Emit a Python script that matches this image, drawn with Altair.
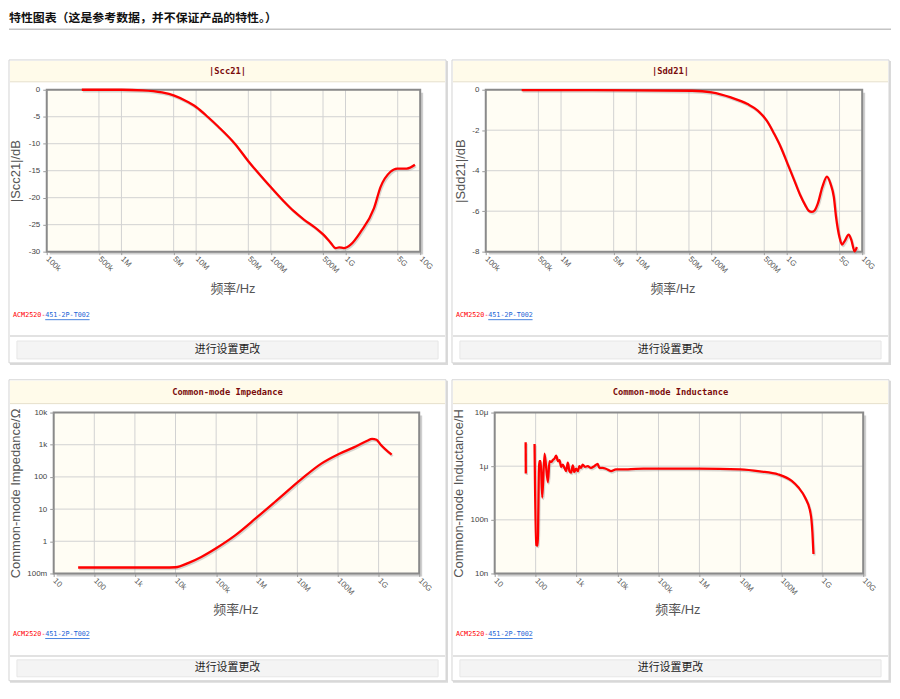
import json
import altair as alt
import pandas as pd

# ---------------- text ----------------
header_text = "特性图表（这是参考数据，并不保证产品的特性。）"
part_prefix = "ACM2520-"
part_suffix = "451-2P-T002"
button_text = "进行设置更改"
x_title = "频率/Hz"

# ---------------- data: |Scc21| (dB) ----------------
scc_f = [2.95e5, 6e5, 1e6, 1.9e6, 3.5e6, 5.1e6, 7.1e6, 1e7, 1.45e7, 2e7, 3.3e7, 5.1e7,
         9.1e7, 1.5e8, 2.07e8, 2.8e8, 3.8e8, 5.1e8, 6.2e8, 7.4e8, 8.2e8, 9.5e8, 1.17e9,
         1.6e9, 2.4e9, 2.95e9, 4e9, 4.9e9, 6.6e9, 8.5e9]
scc_v = [0, 0, 0, -0.1, -0.5, -1.1, -2.0, -3.2, -5.1, -6.9, -10.0, -13.4,
         -17.4, -20.7, -22.6, -24.1, -25.4, -26.9, -28.2, -29.35, -29.2, -29.35, -28.7,
         -26.3, -22.0, -18.0, -15.2, -14.6, -14.6, -13.9]

# ---------------- data: |Sdd21| (dB) ----------------
sdd_f = [3e5, 1e6, 1e7, 5.5e7, 1e8, 1.8e8, 3e8, 4.1e8, 5.4e8, 6.8e8, 8.3e8, 1.02e9,
         1.26e9, 1.5e9, 1.75e9, 1.95e9, 2.15e9, 2.35e9, 2.57e9, 2.95e9, 3.4e9, 3.8e9,
         4.2e9, 4.5e9, 5.0e9, 5.4e9, 5.9e9, 6.6e9, 7.2e9, 7.9e9, 8.5e9]
sdd_v = [-0.02, -0.02, -0.03, -0.05, -0.13, -0.38, -0.71, -1.03, -1.53, -2.19, -2.84, -3.66,
         -4.5, -5.2, -5.7, -5.98, -6.04, -5.95, -5.63, -4.81, -4.29, -4.65,
         -5.3, -6.3, -7.3, -7.65, -7.45, -7.16, -7.44, -7.98, -7.77]

# ---------------- data: common-mode impedance (ohm) ----------------
z_f = [40, 100, 1e3, 5e3, 1e4, 2.1e4, 4.3e4, 1.02e5, 2.88e5, 1e6, 3e6, 1.23e7,
       3.8e7, 1.05e8, 2.45e8, 5.25e8, 6.9e8, 8.9e8, 1.1e9, 2.1e9]
z_v = [0.153, 0.153, 0.153, 0.153, 0.156, 0.214, 0.327, 0.62, 1.5, 5.5, 18, 84,
       255, 518, 826, 1330, 1530, 1420, 1040, 490]

# ---------------- data: common-mode inductance (uH) ----------------
l_f = [57, 57.5, 94, 103, 112, 122, 133, 145, 165, 199, 218, 240, 263, 290, 317, 350, 382,
       420, 461, 505, 555, 610, 669, 735, 807, 880, 972, 1070, 1170, 1290, 1410, 1600,
       1870, 2250, 2700, 3280, 3590, 4330, 5220, 6920, 9150, 1.6e4, 2.8e4, 1e5, 1e6,
       1e7, 3e7, 8.5e7, 1.8e8, 2.63e8, 3.8e8, 5.1e8, 5.45e8, 5.75e8, 6.1e8]
l_v = [2.8, 0.73, 2.6, 0.034, 0.033, 1.24, 1.24, 0.26, 1.72, 0.5, 1.24, 1.2, 1.3, 1.4,
       1.58, 1.24, 1.3, 0.97, 1.07, 0.93, 0.81, 1.16, 0.81, 0.76, 1.03, 0.78, 0.9, 0.81,
       1.0, 0.93, 1.07, 0.975, 1.0, 0.93, 1.0, 1.1, 0.93, 0.93, 0.895, 0.81, 0.87, 0.87,
       0.895, 0.9, 0.9, 0.87, 0.8, 0.70, 0.53, 0.40, 0.26, 0.14, 0.1, 0.058, 0.023]
l_seg = [1, 1] + [2] * (len(l_f) - 2)

# ---------------- ticks ----------------
xt_hf = [1e5, 5e5, 1e6, 5e6, 1e7, 5e7, 1e8, 5e8, 1e9, 5e9, 1e10]
xl_hf = ["100k", "500k", "1M", "5M", "10M", "50M", "100M", "500M", "1G", "5G", "10G"]
xt_wide = [1e1, 1e2, 1e3, 1e4, 1e5, 1e6, 1e7, 1e8, 1e9, 1e10]
xl_wide = ["10", "100", "1k", "10k", "100k", "1M", "10M", "100M", "1G", "10G"]
yt_scc = [0, -5, -10, -15, -20, -25, -30]
yl_scc = ["0", "-5", "-10", "-15", "-20", "-25", "-30"]
yt_sdd = [0, -2, -4, -6, -8]
yl_sdd = ["0", "-2", "-4", "-6", "-8"]
yt_z = [0.1, 1, 10, 100, 1000, 10000]
yl_z = ["100m", "1", "10", "100", "1k", "10k"]
yt_l = [0.01, 0.1, 1, 10]
yl_l = ["10n", "100n", "1μ", "10μ"]

SANS = "Liberation Sans, Noto Sans CJK SC, sans-serif"
CJK = "Noto Sans CJK SC, sans-serif"
MONO = "DejaVu Sans Mono, monospace"


def lab_expr(vals, labs):
    return (json.dumps(labs, ensure_ascii=False) + "[indexof(" +
            json.dumps([float(v) for v in vals]) + ", datum.value)]")


def panel(cfg):
    W, H, tb = cfg["W"], cfg["H"], cfg["tb"]
    px0, px1, py0, py1 = cfg["plot"]
    xd = [cfg["xt"][0], cfg["xt"][-1]]
    yd = cfg["ydom"]
    one = alt.Chart(pd.DataFrame({"k": [0]}))

    xs = alt.Scale(type="log", domain=xd, range=[px0, px1], nice=False)
    if cfg["ylog"]:
        ys = alt.Scale(type="log", domain=yd, range=[py1, py0], nice=False)
    else:
        ys = alt.Scale(type="linear", domain=yd, range=[py1, py0], nice=False, zero=False)

    xaxis = alt.Axis(values=cfg["xt"], labelExpr=lab_expr(cfg["xt"], cfg["xl"]),
                     orient="bottom", offset=py1 - H, domain=False, grid=False,
                     ticks=True, tickSize=3, tickColor="#9a9a9a", labelAngle=45,
                     labelAlign="left", labelBaseline="middle", labelPadding=3,
                     labelFontSize=8, labelColor="#555555", labelFont=SANS,
                     labelOverlap=False, labelFlush=False,
                     title=x_title, titleX=cfg["xtx"], titleY=cfg["xty"] - py1,
                     titleAlign="center", titleBaseline="middle", titleFontSize=13,
                     titleFontWeight="normal", titleColor="#555555", titleFont=SANS,
                     zindex=1)
    yaxis = alt.Axis(values=cfg["yt"], labelExpr=lab_expr(cfg["yt"], cfg["yl"]),
                     orient="left", offset=-px0, domain=False, grid=False,
                     ticks=True, tickSize=4, tickColor="#9a9a9a", labelPadding=3,
                     labelFontSize=8, labelColor="#444444", labelFont=SANS,
                     labelOverlap=False, labelFlush=False,
                     title=cfg["ytitle"], titleX=cfg["ytx"] - px0,
                     titleY=(py0 + py1) / 2, titleAngle=270, titleAlign="center",
                     titleBaseline="middle", titleFontSize=13, titleFontWeight="normal",
                     titleColor="#555555", titleFont=SANS, zindex=1)

    def X(**kw):
        return alt.X(type="quantitative", scale=xs, axis=xaxis, **kw)

    def Y(**kw):
        return alt.Y(type="quantitative", scale=ys, axis=yaxis, **kw)

    layers = []
    # panel box + shadow
    layers.append(one.mark_rect(fill="#dadada").encode(
        x=alt.value(1), x2=alt.value(W + 2), y=alt.value(1), y2=alt.value(H + 2)))
    layers.append(one.mark_rect(fill="white", stroke="#d4d4d4", strokeWidth=1).encode(
        x=alt.value(0), x2=alt.value(W), y=alt.value(0), y2=alt.value(H)))
    # title bar
    layers.append(one.mark_rect(fill="#fffbea").encode(
        x=alt.value(1), x2=alt.value(W - 1), y=alt.value(1), y2=alt.value(tb)))
    layers.append(one.mark_rule(color="#e6e0cc", strokeWidth=1).encode(
        x=alt.value(1), x2=alt.value(W - 1), y=alt.value(tb)))
    layers.append(one.mark_text(text=cfg["title"], font=MONO, fontWeight="bold",
                                fontSize=8.8, color="#7a0c0c").encode(
        x=alt.value(W / 2), y=alt.value(tb / 2 + 0.5)))

    # plot background with shadow
    layers.append(one.mark_rect(fill="#cfcfcf", xOffset=3, x2Offset=3, yOffset=3,
                                y2Offset=3).encode(
        x=X(datum=xd[0]), x2=alt.X2(datum=xd[1]),
        y=Y(datum=yd[0]), y2=alt.Y2(datum=yd[1])))
    layers.append(one.mark_rect(fill="#fffdf4").encode(
        x=X(datum=xd[0]), x2=alt.X2(datum=xd[1]),
        y=Y(datum=yd[0]), y2=alt.Y2(datum=yd[1])))
    # grid
    layers.append(alt.Chart(pd.DataFrame({"g": cfg["xt"]})).mark_rule(
        color="#d2d2d2", strokeWidth=1).encode(
        x=X(field="g"), y=Y(datum=yd[0]), y2=alt.Y2(datum=yd[1])))
    layers.append(alt.Chart(pd.DataFrame({"g": cfg["yt"]})).mark_rule(
        color="#d2d2d2", strokeWidth=1).encode(
        y=Y(field="g"), x=X(datum=xd[0]), x2=alt.X2(datum=xd[1])))
    # frame
    layers.append(one.mark_rect(fill="white", fillOpacity=0, stroke="#8a8a8a",
                                strokeWidth=2).encode(
        x=X(datum=xd[0]), x2=alt.X2(datum=xd[1]),
        y=Y(datum=yd[0]), y2=alt.Y2(datum=yd[1])))

    # data line
    f, v = cfg["data"][0], cfg["data"][1]
    df = pd.DataFrame({"f": f, "v": v, "s": cfg.get("seg", [1] * len(f))})
    layers.append(alt.Chart(df).mark_line(color="#9a9a9a", opacity=0.4, strokeWidth=2.4,
                                          interpolate="monotone", xOffset=1, yOffset=1.5).encode(
        x=X(field="f"), y=Y(field="v"), detail="s:N"))
    layers.append(alt.Chart(df).mark_line(color="#ff0000", strokeWidth=2.3,
                                          interpolate="monotone").encode(
        x=X(field="f"), y=Y(field="v"), detail="s:N"))

    # footer: part number, separator, button
    fy = cfg["foot_y"]
    cw = 4.06
    layers.append(one.mark_text(text=part_prefix, font=MONO, fontSize=6.8, color="#ff0000",
                                align="left", baseline="middle").encode(
        x=alt.value(4), y=alt.value(fy)))
    layers.append(one.mark_text(text=part_suffix, font=MONO, fontSize=6.8, color="#1a64d6",
                                align="left", baseline="middle").encode(
        x=alt.value(4 + cw * len(part_prefix)), y=alt.value(fy)))
    layers.append(one.mark_rule(color="#1a64d6", strokeWidth=0.8).encode(
        x=alt.value(4 + cw * len(part_prefix)),
        x2=alt.value(4 + cw * (len(part_prefix) + len(part_suffix))),
        y=alt.value(fy + 4.5)))
    layers.append(one.mark_rule(color="#d9d9d9", strokeWidth=1.5).encode(
        x=alt.value(1), x2=alt.value(W - 1), y=alt.value(cfg["sep_y"])))
    b0, b1 = cfg["btn"]
    layers.append(one.mark_rect(fill="#f4f4f4", stroke="#e6e6e6", strokeWidth=1).encode(
        x=alt.value(8), x2=alt.value(W - 8), y=alt.value(b0), y2=alt.value(b1)))
    layers.append(one.mark_text(text=button_text, font=CJK, fontSize=11, color="#222222").encode(
        x=alt.value(W / 2), y=alt.value((b0 + b1) / 2)))

    return alt.layer(*layers).properties(width=W, height=H)


p1 = panel(dict(W=440, H=305, tb=22, title="|Scc21|", plot=(38, 414, 30, 193),
                ytitle="|Scc21|/dB", ytx=7, xtx=225, xty=230, foot_y=257, sep_y=278,
                btn=(283, 301), data=(scc_f, scc_v), xt=xt_hf, xl=xl_hf,
                yt=yt_scc, yl=yl_scc, ydom=[-30, 0], ylog=False))
p2 = panel(dict(W=440, H=305, tb=22, title="|Sdd21|", plot=(34, 413, 30, 193),
                ytitle="|Sdd21|/dB", ytx=9, xtx=222, xty=230, foot_y=257, sep_y=278,
                btn=(283, 301), data=(sdd_f, sdd_v), xt=xt_hf, xl=xl_hf,
                yt=yt_sdd, yl=yl_sdd, ydom=[-8, 0], ylog=False))
p3 = panel(dict(W=440, H=303, tb=24, title="Common-mode Impedance", plot=(45, 413, 33, 195),
                ytitle="Common-mode Impedance/Ω", ytx=6.5, xtx=228, xty=231, foot_y=256,
                sep_y=278, btn=(282, 299), data=(z_f, z_v), xt=xt_wide, xl=xl_wide,
                yt=yt_z, yl=yl_z, ydom=[0.1, 10000], ylog=True))
p4 = panel(dict(W=440, H=303, tb=24, title="Common-mode Inductance", plot=(43, 414, 33, 195),
                ytitle="Common-mode Inductance/H", ytx=6.5, xtx=227, xty=231, foot_y=256,
                sep_y=278, btn=(282, 299), data=(l_f, l_v), seg=l_seg, xt=xt_wide,
                xl=xl_wide, yt=yt_l, yl=yl_l, ydom=[0.01, 10], ylog=True))

one = alt.Chart(pd.DataFrame({"k": [0]}))
header = alt.layer(
    one.mark_text(text=header_text, font=CJK, fontWeight="bold", fontSize=12,
                  color="#111111", align="left", baseline="middle").encode(
        x=alt.value(0), y=alt.value(8)),
    one.mark_rule(color="#c4c4c4", strokeWidth=1.5).encode(
        x=alt.value(0), x2=alt.value(888), y=alt.value(19)),
).properties(width=886, height=35)

row1 = alt.hconcat(p1, p2, spacing=6, bounds="flush")
row2 = alt.hconcat(p3, p4, spacing=6, bounds="flush")
chart = alt.vconcat(header, row1, row2, spacing=14).properties(
    padding=0, background="white").configure_view(stroke=None)

chart.save("out.html", embed_options={"renderer": "svg", "actions": False})
